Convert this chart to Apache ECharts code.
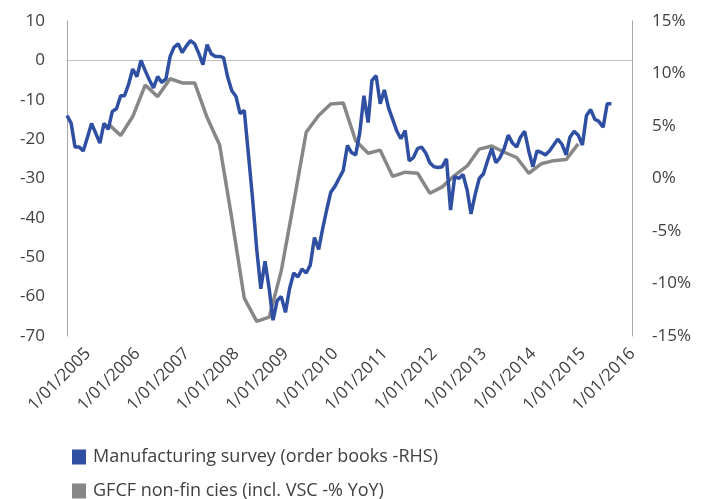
<!DOCTYPE html>
<html><head><meta charset="utf-8">
<script src="https://cdn.jsdelivr.net/npm/echarts@6/dist/echarts.min.js"></script>
<style>html,body{margin:0;padding:0;background:#fff}#c{width:709px;height:499px}</style>
</head><body><div id="c"></div>
<script>
// ---- data ----
const seriesNames = ['Manufacturing survey (order books -RHS)', 'GFCF non-fin cies (incl. VSC -% YoY)'];
// monthly, starting Jan 2005 (left axis)
const blueStart = [2005, 1];
const blueValues = [
  -14, -16, -22, -22, -23, -19.5, -16, -18.5, -21, -16, -17.5, -13,
  -12.3, -9, -9, -6, -2.2, -4.1, 0, -2.6, -5, -7, -4.1, -5.6,
  -4.7, 1, 3.3, 4.2, 2, 3.7, 5, 4.2, 1.7, -1.1, 4, 1.7,
  1, 1, 0.7, -4.3, -7.7, -9.2, -13.5, -12.7, -24, -35, -48, -58,
  -51, -58, -66, -61, -60, -64, -58, -54, -55, -53, -54, -52,
  -45, -48, -43, -38, -33.5, -32, -30, -28, -21.6, -23.4, -24, -18.4,
  -9, -15.8, -5.1, -3.9, -11, -7.5, -12, -15, -18, -19.9, -17.8, -25.5,
  -24.7, -22.4, -22, -23.5, -26, -27, -27.2, -27, -25, -38, -29.5, -30,
  -29, -33, -39, -34, -30, -28.8, -25.5, -22.4, -26, -24.7, -22.4, -19,
  -21, -22, -19.5, -18, -23, -27, -23, -23.4, -24, -23, -21.5, -20,
  -21.3, -24, -19.5, -18, -19, -21.5, -14, -12.5, -15, -15.5, -17, -11, -11
];
// quarterly (mid-quarter months), starting Nov 2005 (right axis, %)
const grayStart = [2005, 11];
const grayStepMonths = 3;
const grayValues = [
  5.2, 4.1, 5.9, 8.9, 7.8, 9.5, 9.1, 9.1, 5.8, 3.2, -3.8, -11.4, -13.6,
  -13.2, -8.8, -2.3, 4.4, 6.0, 7.1, 7.2, 3.6, 2.4, 2.7, 0.2, 0.6, 0.5,
  -1.4, -0.8, 0.3, 1.2, 2.8, 3.1, 2.5, 2.0, 0.5, 1.4, 1.7, 1.8, 3.3
];
const xMinDate = '2005-01-01';
const xMaxDate = '2016-06-01';
const yearTickFirst = 2005;
const yearTickLast = 2016;
const leftTicks = {min: -70, max: 10, interval: 10};
const rightTicks = {min: -15, max: 15, interval: 5};

// ---- build ----
function monthDate(start, offset) {
  const t = start[0] * 12 + (start[1] - 1) + offset;
  const y = Math.floor(t / 12), m = t % 12 + 1;
  return y + '-' + String(m).padStart(2, '0') + '-01';
}
const blueData = blueValues.map((v, i) => [monthDate(blueStart, i), v]);
const grayData = grayValues.map((v, i) => [monthDate(grayStart, i * grayStepMonths), v]);

const FONT = '"Open Sans", "Noto Sans", sans-serif';
const TXT = '#404040';
const chart = echarts.init(document.getElementById('c'), null, {renderer: 'canvas'});
const plotLeft = 67, plotWidth = 565;
const spanYears = (new Date(xMaxDate) - new Date(xMinDate)) / (365.25 * 86400000);

function legendRow(name, top) {
  return {
    orient: 'horizontal', left: 72, top: top, padding: 0,
    itemWidth: 14, itemHeight: 15, icon: 'rect', selectedMode: false,
    textStyle: {fontFamily: FONT, fontSize: 18, lineHeight: 15, color: TXT, padding: [0, 0, 0, 2]},
    data: [name]
  };
}

chart.setOption({
  animation: false,
  backgroundColor: '#fff',
  grid: [
    {left: plotLeft, width: plotWidth, top: 21, height: 315},
    {left: plotLeft + 21, width: plotWidth, top: 21, height: 315}
  ],
  xAxis: [
    {
      type: 'time', gridIndex: 0, min: xMinDate, max: xMaxDate,
      axisLine: {show: true, onZero: true, lineStyle: {color: '#bfbfbf', width: 1}},
      axisTick: {show: false}, axisLabel: {show: false}, splitLine: {show: false}
    },
    {
      type: 'value', gridIndex: 1, min: yearTickFirst, max: yearTickFirst + spanYears, interval: 1,
      axisLine: {show: false}, axisTick: {show: false}, splitLine: {show: false},
      axisLabel: {
        show: true, rotate: 45, margin: 15, showMaxLabel: false,
        fontFamily: FONT, fontSize: 17, color: TXT,
        formatter: v => (Number.isInteger(v) && v <= yearTickLast) ? '1/01/' + v : ''
      }
    }
  ],
  yAxis: [
    {
      type: 'value', gridIndex: 0, position: 'left', ...leftTicks,
      axisLine: {show: true, lineStyle: {color: '#a6a6a6', width: 1}},
      axisTick: {show: false}, splitLine: {show: false},
      axisLabel: {margin: 22, fontFamily: FONT, fontSize: 17, color: TXT}
    },
    {
      type: 'value', gridIndex: 0, position: 'right', ...rightTicks,
      axisLine: {show: true, lineStyle: {color: '#a6a6a6', width: 1}},
      axisTick: {show: false}, splitLine: {show: false},
      axisLabel: {margin: 20, fontFamily: FONT, fontSize: 17, color: TXT, formatter: '{value}%'}
    },
    {type: 'value', gridIndex: 1, min: 0, max: 1, show: false}
  ],
  legend: [legendRow(seriesNames[0], 448), legendRow(seriesNames[1], 482)],
  series: [
    {
      name: seriesNames[1], type: 'line', xAxisIndex: 0, yAxisIndex: 1, data: grayData,
      showSymbol: false, symbol: 'none', lineStyle: {color: '#878787', width: 3.5},
      itemStyle: {color: '#878787'}, z: 2
    },
    {
      name: seriesNames[0], type: 'line', xAxisIndex: 0, yAxisIndex: 0, data: blueData,
      showSymbol: false, symbol: 'none', lineStyle: {color: '#2f4fa2', width: 3.5},
      itemStyle: {color: '#2f4fa2'}, z: 3
    },
    {type: 'line', xAxisIndex: 1, yAxisIndex: 2, data: [], silent: true}
  ]
});
</script>
</body></html>
